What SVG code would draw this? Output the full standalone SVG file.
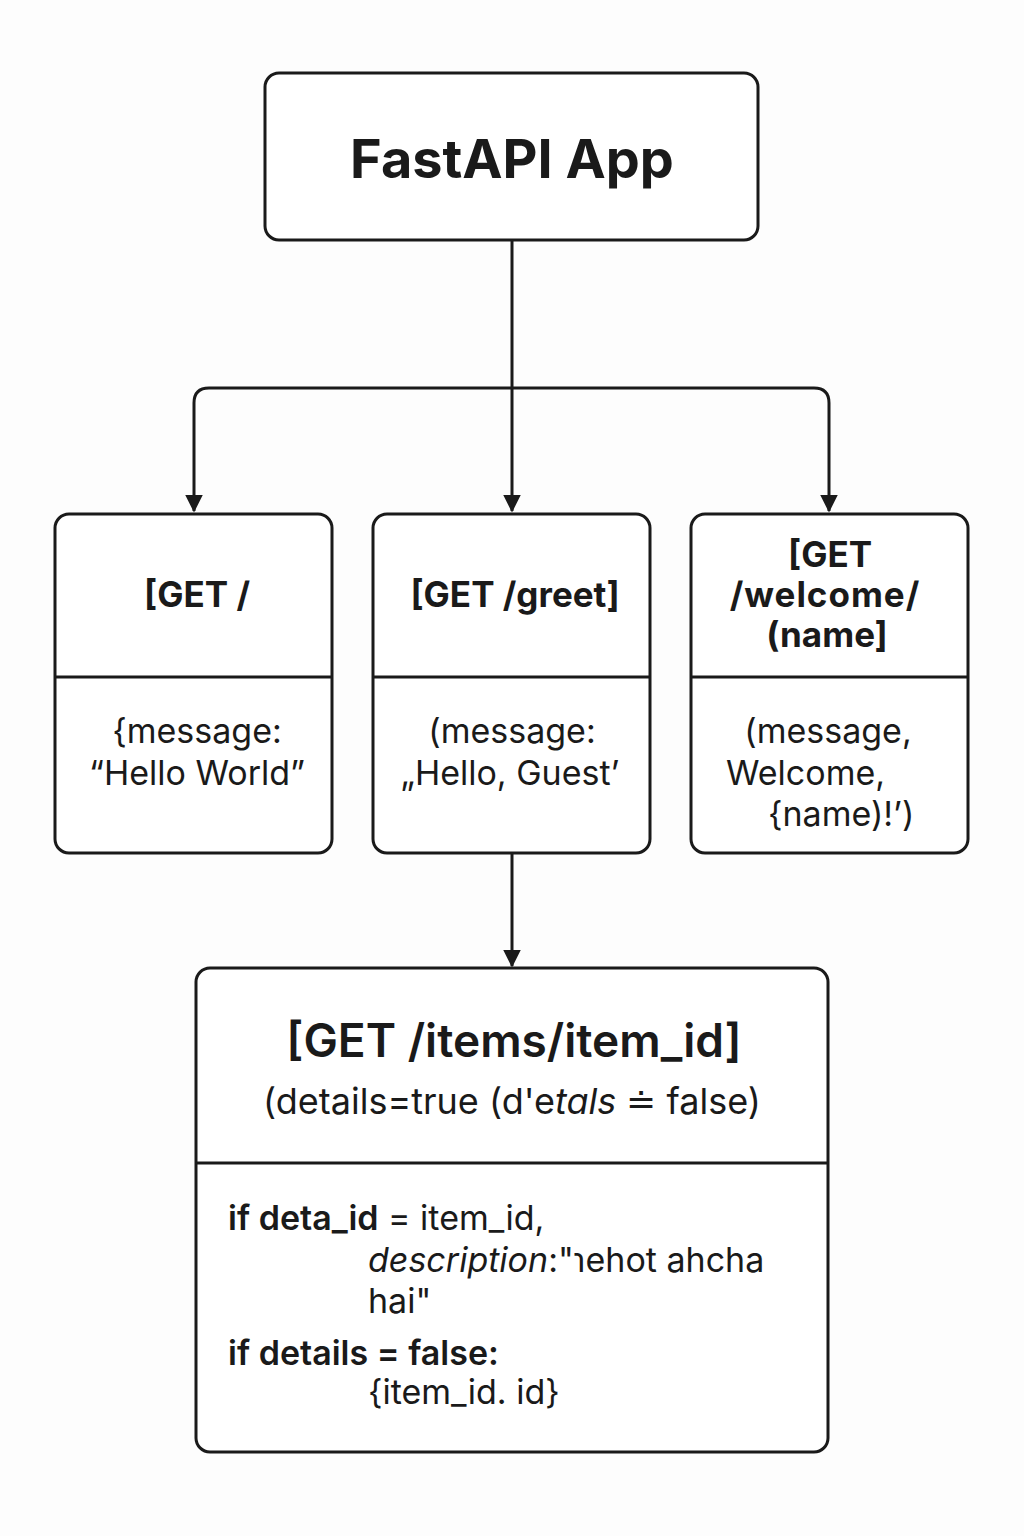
<svg xmlns="http://www.w3.org/2000/svg" width="1024" height="1536" viewBox="0 0 1024 1536">
<defs>
<marker id="arr" viewBox="0 0 12 12" refX="11" refY="6" markerWidth="18" markerHeight="18" markerUnits="userSpaceOnUse" orient="auto"><path d="M0,0 L12,6 L0,12 Z" fill="#1a1a1a"/></marker>
</defs>
<style>
.box{fill:#ffffff;stroke:#1a1a1a;stroke-width:3}
.div{stroke:#1a1a1a;stroke-width:3}
.con{fill:none;stroke:#1a1a1a;stroke-width:3}
text{font-family:Inter,"Noto Sans","Liberation Sans",sans-serif;fill:#1a1a1a}
.h{font-weight:700;font-size:35px;text-anchor:middle}
.b{font-size:34px;text-anchor:middle}
.bl{font-size:34px}
</style>
<rect width="1024" height="1536" fill="#fdfdfd"/>
<g id="connectors">
<path class="con" d="M512,240 V511" marker-end="url(#arr)"/>
<path class="con" d="M512,388 H209 Q194,388 194,403 V511" marker-end="url(#arr)"/>
<path class="con" d="M512,388 H814 Q829,388 829,403 V511" marker-end="url(#arr)"/>
<path class="con" d="M512,853 V966" marker-end="url(#arr)"/>
</g>
<g id="app">
<rect class="box" x="265" y="73" width="493" height="167" rx="14"/>
<text x="512" y="178" style="font-weight:700;font-size:54px;text-anchor:middle">FastAPI App</text>
</g>
<g id="root">
<rect class="box" x="55" y="514" width="277" height="339" rx="14"/>
<line class="div" x1="55" y1="677" x2="332" y2="677"/>
<text class="h" x="197" y="607">[GET /</text>
<text class="b" x="197" y="743">{message:</text>
<text class="b" x="197" y="785">“Hello World”</text>
</g>
<g id="greet">
<rect class="box" x="373" y="514" width="277" height="339" rx="14"/>
<line class="div" x1="373" y1="677" x2="650" y2="677"/>
<text class="h" x="515" y="607">[GET /greet]</text>
<text class="b" x="512" y="743">(message:</text>
<text class="b" x="510" y="785">„Hello, Guest’</text>
</g>
<g id="welcome">
<rect class="box" x="691" y="514" width="277" height="339" rx="14"/>
<line class="div" x1="691" y1="677" x2="968" y2="677"/>
<text class="h" x="830" y="567">[GET</text>
<text class="h" x="825" y="607" letter-spacing="1">/welcome/</text>
<text class="h" x="827" y="647">(name]</text>
<text class="b" x="828" y="743">(message,</text>
<text class="bl" x="726" y="785">Welcome,</text>
<text class="bl" x="768" y="826">{name)!’)</text>
</g>
<g id="items">
<rect class="box" x="196" y="968" width="632" height="484" rx="14"/>
<line class="div" x1="196" y1="1163" x2="828" y2="1163"/>
<text x="514" y="1057" style="font-size:46px;font-weight:600;text-anchor:middle">[GET /items/item_id]</text>
<text x="512" y="1114" style="font-size:36px;text-anchor:middle">(details=true (d'e<tspan font-style="italic">tals</tspan> ≐ false)</text>
<text class="bl" x="228" y="1230"><tspan font-weight="600">if deta_id</tspan> = item_id,</text>
<text class="bl" x="368" y="1272" font-size="35"><tspan font-style="italic">description</tspan>:"ɿehot ahcha</text>
<text class="bl" x="368" y="1313">hai"</text>
<text class="bl" x="228" y="1365" font-weight="600">if details = false:</text>
<text class="bl" x="368" y="1404">{item_id. id}</text>
</g>
</svg>
